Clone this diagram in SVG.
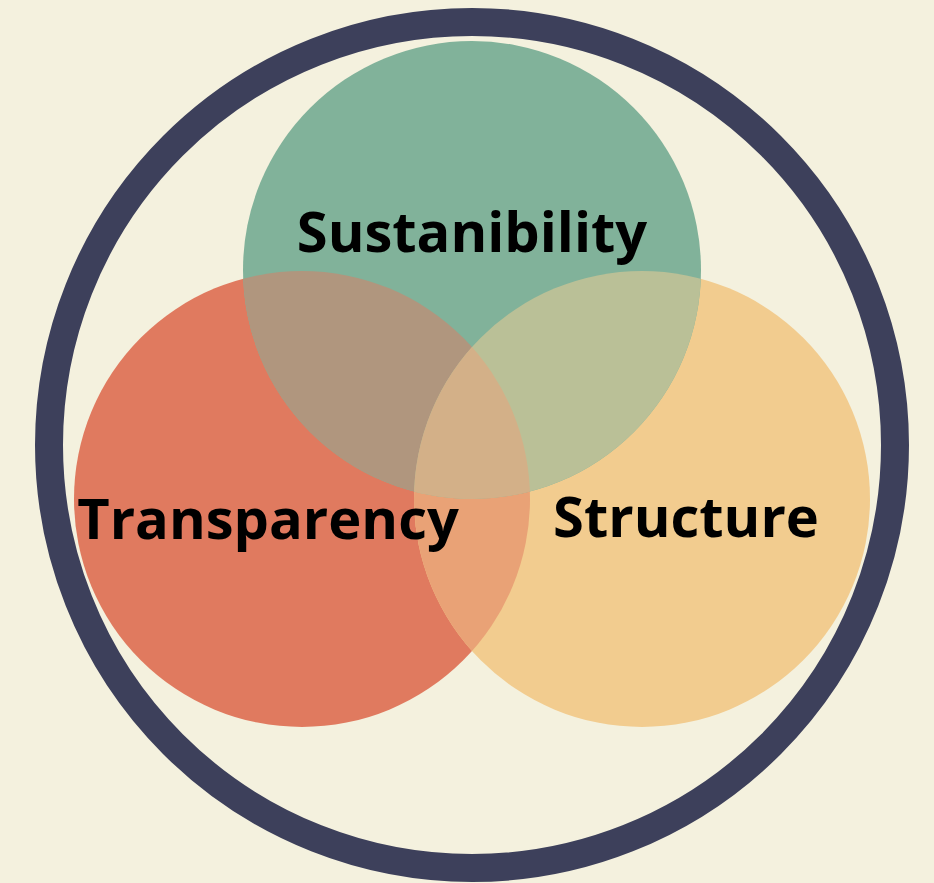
<svg xmlns="http://www.w3.org/2000/svg" width="934" height="883" viewBox="0 0 934 883">
  <style>
    .lbl { font-family: "Open Sans", "Liberation Sans", sans-serif; font-weight: 700; font-size: 56px; fill: #000; text-anchor: middle; }
  </style>
  <defs>
    <clipPath id="clipRed"><circle cx="302" cy="499" r="228"/></clipPath>
    <clipPath id="clipYellow"><circle cx="642" cy="499" r="228"/></clipPath>
    <clipPath id="clipGreen"><circle cx="472" cy="270" r="229"/></clipPath>
  </defs>
  <rect width="934" height="883" fill="#f4f1de"/>
  <g id="outer-ring">
    <circle cx="472" cy="445" r="423" fill="none" stroke="#3d405b" stroke-width="28"/>
  </g>
  <g id="transparency">
    <circle cx="302" cy="499" r="228" fill="#e07a5f"/>
  </g>
  <g id="structure">
    <circle cx="642" cy="499" r="228" fill="#f2cc8f"/>
  </g>
  <g id="sustainability">
    <circle cx="472" cy="270" r="229" fill="#81b29a"/>
  </g>
  <g id="overlaps">
    <circle cx="642" cy="499" r="228" fill="#e9a276" clip-path="url(#clipRed)"/>
    <circle cx="472" cy="270" r="229" fill="#b0967e" clip-path="url(#clipRed)"/>
    <circle cx="472" cy="270" r="229" fill="#bac097" clip-path="url(#clipYellow)"/>
    <g clip-path="url(#clipRed)">
      <circle cx="472" cy="270" r="229" fill="#d3b088" clip-path="url(#clipYellow)"/>
    </g>
  </g>
  <g id="labels">
    <text class="lbl" x="472" y="252">Sustanibility</text>
    <text class="lbl" x="268" y="539">Transparency</text>
    <text class="lbl" x="686" y="537">Structure</text>
  </g>
</svg>
